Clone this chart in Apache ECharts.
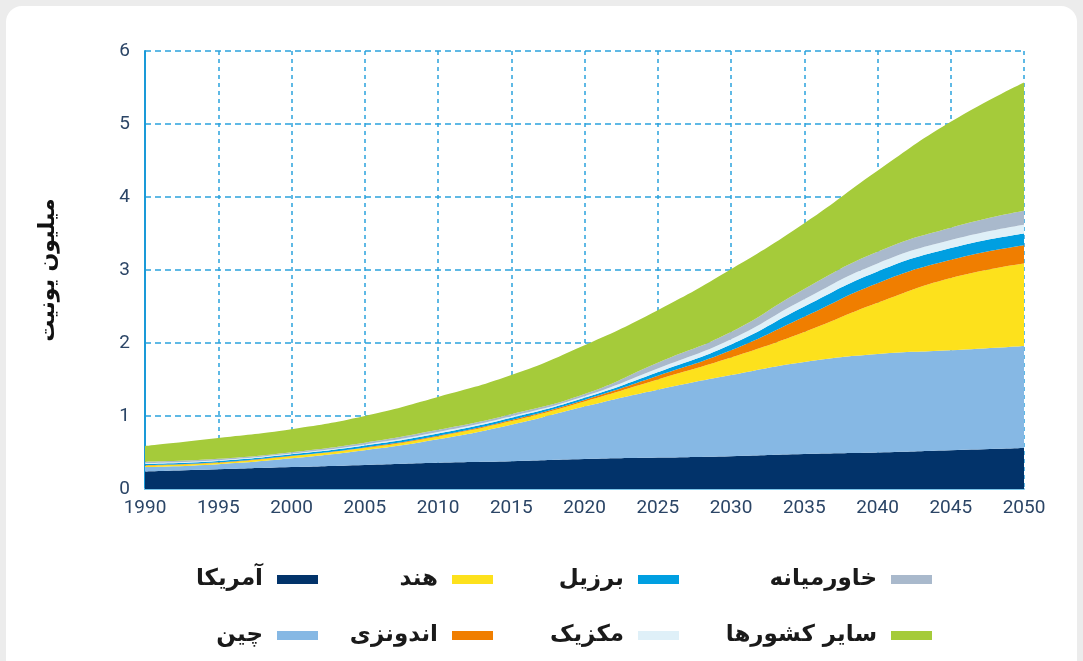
<!DOCTYPE html>
<html>
<head>
<meta charset="utf-8">
<script src="https://cdn.jsdelivr.net/npm/echarts@6/dist/echarts.min.js"></script>
<style>
  html, body { margin: 0; padding: 0; background: #ececec; overflow: hidden; }
  #card { position: absolute; left: 6px; top: 6px; width: 1071px; height: 700px; background: #fff; border-radius: 16px; }
  #main { position: absolute; left: 0; top: 0; width: 1083px; height: 661px; }
</style>
</head>
<body>
<div id="card"></div>
<div id="main"></div>
<script>
  var years = ['1990', '1995', '2000', '2005', '2010', '2015', '2020', '2025', '2030', '2035', '2040', '2045', '2050'];
  // million units, stacked from bottom
  var usa = [0.24, 0.27, 0.30, 0.33, 0.36, 0.38, 0.41, 0.43, 0.45, 0.48, 0.50, 0.53, 0.56];
  var china = [0.06, 0.07, 0.12, 0.20, 0.32, 0.50, 0.72, 0.93, 1.11, 1.26, 1.35, 1.37, 1.40];
  var india = [0.02, 0.02, 0.03, 0.03, 0.04, 0.05, 0.07, 0.14, 0.24, 0.41, 0.70, 0.99, 1.13];
  var indonesia = [0.005, 0.005, 0.005, 0.01, 0.01, 0.015, 0.02, 0.05, 0.10, 0.21, 0.27, 0.25, 0.25];
  var brazil = [0.02, 0.02, 0.02, 0.025, 0.03, 0.03, 0.03, 0.05, 0.08, 0.14, 0.16, 0.16, 0.16];
  var mexico = [0.01, 0.01, 0.01, 0.015, 0.02, 0.02, 0.02, 0.05, 0.07, 0.10, 0.11, 0.11, 0.12];
  var middleEast = [0.02, 0.02, 0.02, 0.025, 0.03, 0.03, 0.03, 0.08, 0.10, 0.14, 0.16, 0.17, 0.19];
  var others = [0.215, 0.285, 0.315, 0.365, 0.45, 0.535, 0.67, 0.72, 0.86, 0.90, 1.11, 1.45, 1.76];

  var names = ['آمریکا', 'چین', 'هند', 'اندونزی', 'برزیل', 'مکزیک', 'خاورمیانه', 'سایر کشورها'];
  var colors = ['#02336a', '#86b8e4', '#fde11c', '#f07e00', '#009fe1', '#dff0f8', '#a9b9cc', '#a5cb3a'];
  var seriesData = [usa, china, india, indonesia, brazil, mexico, middleEast, others];

  var FA_FONT = '"DejaVu Sans", sans-serif';
  var GRID_COLOR = '#2ba3dd';

  // legend placement: column-major, icon on the right of the text
  var legendRight = [760, 760, 585, 585, 399, 399, 146, 146];
  var legendTop = [563, 619, 563, 619, 563, 619, 563, 619];

  var chart = echarts.init(document.getElementById('main'));

  var legends = names.map(function(name, i){
    return {
      data: [name],
      right: legendRight[i],
      top: legendTop[i],
      align: 'right',
      icon: 'rect',
      itemWidth: 41,
      itemHeight: 9,
      selectedMode: false,
      textStyle: {
        fontFamily: FA_FONT,
        fontSize: 23,
        fontWeight: 'bold',
        color: '#1a1a1a',
        padding: [0, 9, 0, 0]
      }
    };
  });

  var option = {
    backgroundColor: 'transparent',
    animation: false,
    color: colors,
    legend: legends,
    grid: {
      left: 145,
      right: 59,
      top: 51,
      bottom: 172
    },
    xAxis: {
      type: 'category',
      data: years,
      boundaryGap: false,
      axisLine: { show: true, lineStyle: { color: '#7cc6ea', width: 2 } },
      axisTick: { show: false },
      axisLabel: {
        interval: 0,
        margin: 10,
        fontFamily: 'Roboto',
        fontSize: 19,
        color: '#2b4566'
      },
      splitLine: {
        show: true,
        interval: 0,
        lineStyle: { color: GRID_COLOR, type: [4, 4], width: 1.5 }
      }
    },
    yAxis: {
      type: 'value',
      min: 0,
      max: 6,
      interval: 1,
      name: 'میلیون یونیت',
      nameLocation: 'middle',
      nameGap: 86,
      nameTextStyle: {
        fontFamily: FA_FONT,
        fontSize: 22,
        fontWeight: 'bold',
        color: '#111'
      },
      axisLine: { show: true, lineStyle: { color: '#1a9ad8', width: 2 } },
      axisTick: { show: false },
      axisLabel: {
        margin: 15,
        fontFamily: 'Roboto',
        fontSize: 19,
        color: '#2b4566'
      },
      splitLine: {
        show: true,
        lineStyle: { color: GRID_COLOR, type: [6, 4], width: 1.5 }
      }
    },
    series: names.map(function(name, i){
      return {
        name: name,
        type: 'line',
        stack: 'total',
        smooth: 0.5,
        symbol: 'none',
        lineStyle: { width: 0 },
        areaStyle: { color: colors[i], opacity: 1 },
        itemStyle: { color: colors[i] },
        data: seriesData[i]
      };
    })
  };

  chart.setOption(option);
</script>
</body>
</html>
